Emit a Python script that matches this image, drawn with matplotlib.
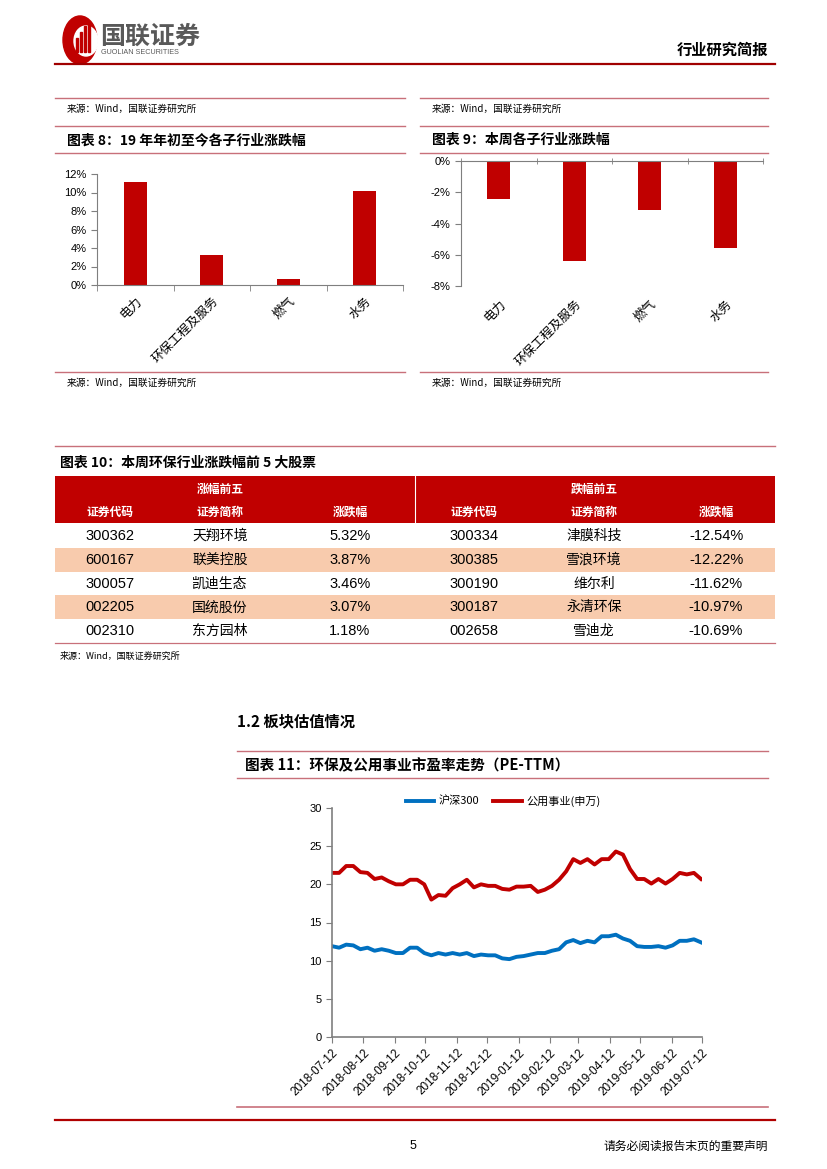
import numpy as np
import pandas as pd
import matplotlib
matplotlib.use("Agg")
import matplotlib.pyplot as plt
from matplotlib.lines import Line2D
from matplotlib.patches import Rectangle, Circle, Ellipse
from matplotlib.ticker import MultipleLocator, FuncFormatter

plt.rcParams['font.family'] = ['Noto Sans CJK SC', 'DejaVu Sans']
NUM = ['Liberation Sans', 'Noto Sans CJK SC']

# ---------------- data ----------------
sub_industries = ['电力', '环保工程及服务', '燃气', '水务']
ytd_change = [11.1, 3.2, 0.6, 10.2]          # 图表8 (%)
week_change = [-2.4, -6.4, -3.15, -5.55]     # 图表9 (%)

top_codes = ['300362', '600167', '300057', '002205', '002310']
top_names = ['天翔环境', '联美控股', '凯迪生态', '国统股份', '东方园林']
top_pct = ['5.32%', '3.87%', '3.46%', '3.07%', '1.18%']
bot_codes = ['300334', '300385', '300190', '300187', '002658']
bot_names = ['津膜科技', '雪浪环境', '维尔利', '永清环保', '雪迪龙']
bot_pct = ['-12.54%', '-12.22%', '-11.62%', '-10.97%', '-10.69%']

pe_dates = pd.date_range('2018-07-12', periods=53, freq='7D')
pe_hs300 = [11.9, 11.7, 12.1, 12.0, 11.5, 11.7, 11.3, 11.5, 11.3, 11.0,
            11.0, 11.7, 11.7, 11.0, 10.7, 11.0, 10.8, 11.0, 10.8, 11.0,
            10.6, 10.8, 10.7, 10.7, 10.3, 10.2, 10.5, 10.6, 10.8, 11.0,
            11.0, 11.3, 11.5, 12.4, 12.7, 12.3, 12.6, 12.4, 13.2, 13.2,
            13.4, 12.9, 12.6, 11.9, 11.8, 11.8, 11.9, 11.7, 12.0, 12.6,
            12.6, 12.8, 12.4]
pe_utility = [21.5, 21.5, 22.4, 22.4, 21.6, 21.5, 20.7, 20.9, 20.4, 20.0,
              20.0, 20.6, 20.6, 20.0, 18.0, 18.6, 18.5, 19.5, 20.0, 20.6,
              19.6, 20.0, 19.8, 19.8, 19.4, 19.3, 19.7, 19.7, 19.8, 19.0,
              19.3, 19.8, 20.6, 21.7, 23.3, 22.8, 23.3, 22.6, 23.3, 23.3,
              24.3, 23.9, 22.0, 20.7, 20.7, 20.1, 20.7, 20.1, 20.7, 21.5,
              21.3, 21.5, 20.7]
date_ticks = ['2018-07-12', '2018-08-12', '2018-09-12', '2018-10-12', '2018-11-12',
              '2018-12-12', '2019-01-12', '2019-02-12', '2019-03-12', '2019-04-12',
              '2019-05-12', '2019-06-12', '2019-07-12']

# ---------------- layout helpers ----------------
W, H = 827, 1169
fig = plt.figure(figsize=(W / 100, H / 100), dpi=100)
RED = '#C00000'
PINK = '#C8707A'
GRAY_AX = '#7F7F7F'

def fx(x):
    return x / W

def fy(y):
    return 1 - y / H

def hline(y, x0, x1, color=PINK, lw=1.0):
    fig.add_artist(Line2D([fx(x0), fx(x1)], [fy(y), fy(y)], color=color, lw=lw))

def txt(x, y, s, **kw):
    kw.setdefault('va', 'center')
    fig.text(fx(x), fy(y), s, **kw)

def add_ax(x0, x1, ytop, ybot):
    return fig.add_axes([fx(x0), fy(ybot), fx(x1) - fx(x0), (ybot - ytop) / H])

# ---------------- page header ----------------
fig.add_artist(Circle((fx(80), fy(40)), 17 / W, transform=fig.transFigure,
                      color=RED, zorder=2))
fig.add_artist(Ellipse((fx(86), fy(41)), 24 / W, 30 / H, transform=fig.transFigure,
                       color='white', zorder=3))
for i, hh in enumerate([14, 20, 26, 30]):
    fig.add_artist(Rectangle((fx(76 + i * 4), fy(52)), 2.2 / W, hh / H,
                             transform=fig.transFigure, color=RED, zorder=4))
txt(100, 37, '国联证券', fontsize=18, fontweight='bold', color='#595959')
txt(101, 53, 'GUOLIAN SECURITIES', fontsize=5.2, color='#595959', family=NUM)
txt(768, 50, '行业研究简报', fontsize=11, fontweight='bold', ha='right', color='black')
hline(64, 55, 775, color='#A00000', lw=1.6)

# ---------------- chart 8 & 9 frames ----------------
src = '来源：Wind，国联证券研究所'
for (x0, x1) in [(55, 405), (420, 768)]:
    hline(98, x0, x1)
    txt(x0 + 12, 109, src, fontsize=7)
    hline(126, x0, x1)
    hline(153, x0, x1)
    hline(372, x0, x1)
    txt(x0 + 12, 383, src, fontsize=7)
txt(67, 140, '图表 8：19 年年初至今各子行业涨跌幅', fontsize=10, fontweight='bold',
    fontstyle='italic')
txt(432, 140, '图表 9：本周各子行业涨跌幅', fontsize=10, fontweight='bold',
    fontstyle='italic')

def style_bar_ax(ax):
    for s in ['right', 'top', 'bottom', 'left']:
        ax.spines[s].set_visible(False)
    ax.spines['left'].set_visible(True)
    ax.spines['left'].set_color(GRAY_AX)
    ax.tick_params(axis='y', colors='black', labelsize=8, length=4, color=GRAY_AX)
    ax.set_facecolor('none')

xpos = np.arange(len(sub_industries))

# chart 8
ax8 = add_ax(97, 403, 174, 285)
ax8.bar(xpos, ytd_change, width=0.3, color=RED)
ax8.set_xlim(-0.5, 3.5)
ax8.set_ylim(0, 12)
ax8.yaxis.set_major_locator(MultipleLocator(2))
ax8.yaxis.set_major_formatter(FuncFormatter(lambda v, p: f'{v:.0f}%'))
style_bar_ax(ax8)
ax8.spines['bottom'].set_visible(True)
ax8.spines['bottom'].set_color(GRAY_AX)
ax8.set_xticks(xpos)
ax8.set_xticklabels(sub_industries, rotation=45, ha='right', va='top',
                    rotation_mode='anchor', fontsize=9)
ax8.set_xticks(np.arange(-0.5, 4.0, 1.0), minor=True)
ax8.tick_params(axis='x', which='major', length=0, pad=7)
ax8.tick_params(axis='x', which='minor', length=4, color=GRAY_AX)
for lab in ax8.get_yticklabels():
    lab.set_family(NUM)

# chart 9
ax9 = add_ax(461, 763, 161, 286)
ax9.bar(xpos, week_change, width=0.3, color=RED)
ax9.set_xlim(-0.5, 3.5)
ax9.set_ylim(-8, 0)
ax9.yaxis.set_major_locator(MultipleLocator(2))
ax9.yaxis.set_major_formatter(FuncFormatter(lambda v, p: f'{v:.0f}%'))
style_bar_ax(ax9)
ax9.spines['top'].set_visible(True)
ax9.spines['top'].set_color(GRAY_AX)
ax9.set_xticks(xpos)
ax9.set_xticklabels(sub_industries, rotation=45, ha='right', va='top',
                    rotation_mode='anchor', fontsize=9)
ax9.set_xticks(np.arange(-0.5, 4.0, 1.0), minor=True)
ax9.tick_params(axis='x', which='major', length=0, pad=8, bottom=False, top=False,
                labelbottom=True)
ax9.tick_params(axis='x', which='minor', length=4, color=GRAY_AX, bottom=False,
                top=True, direction='inout')
for lab in ax9.get_yticklabels():
    lab.set_family(NUM)

# ---------------- table (图表10) ----------------
hline(446, 55, 775)
txt(60, 463, '图表 10：本周环保行业涨跌幅前 5 大股票', fontsize=10, fontweight='bold',
    fontstyle='italic')
fig.add_artist(Rectangle((fx(55), fy(523)), fx(775) - fx(55), 47 / H,
                         transform=fig.transFigure, color=RED, lw=0))
fig.add_artist(Line2D([fx(415), fx(415)], [fy(476), fy(523)], color='white', lw=0.8))
col_x = [110, 220, 350, 474, 594, 716]
txt(220, 489, '涨幅前五', fontsize=8.5, fontweight='bold', color='white', ha='center')
txt(594, 489, '跌幅前五', fontsize=8.5, fontweight='bold', color='white', ha='center')
headers = ['证券代码', '证券简称', '涨跌幅', '证券代码', '证券简称', '涨跌幅']
for cx, hd in zip(col_x, headers):
    txt(cx, 512, hd, fontsize=8.5, fontweight='bold', color='white', ha='center')
row_h = 23.8
row_top = 524
for i in range(5):
    y0 = row_top + i * row_h
    if i % 2 == 1:
        fig.add_artist(Rectangle((fx(55), fy(y0 + row_h)), fx(775) - fx(55), row_h / H,
                                 transform=fig.transFigure, color='#F8CBAD', lw=0))
    yc = y0 + row_h / 2
    vals = [top_codes[i], top_names[i], top_pct[i], bot_codes[i], bot_names[i], bot_pct[i]]
    for j, (cx, v) in enumerate(zip(col_x, vals)):
        if j in (1, 4):
            txt(cx, yc, v, fontsize=10, ha='center', color='black')
        else:
            txt(cx, yc, v, fontsize=10.5, ha='center', color='black', family=NUM)
hline(643, 55, 775, color=PINK, lw=0.9)
txt(60, 656, src, fontsize=6.5)

# ---------------- section 1.2 / chart 11 ----------------
txt(237, 721, '1.2 板块估值情况', fontsize=11, fontweight='bold')
hline(751, 237, 768)
txt(245, 765, '图表 11：环保及公用事业市盈率走势（PE-TTM）', fontsize=10.5,
    fontweight='bold', fontstyle='italic')
hline(778, 237, 768)

ax11 = add_ax(332, 702, 808, 1037)
l1, = ax11.plot(pe_dates, pe_hs300, color='#0070C0', lw=2.8, label='沪深300')
l2, = ax11.plot(pe_dates, pe_utility, color=RED, lw=2.8, label='公用事业(申万)')
ax11.set_xlim(pd.Timestamp('2018-07-12'), pd.Timestamp('2019-07-12'))
ax11.set_ylim(0, 30)
ax11.yaxis.set_major_locator(MultipleLocator(5))
ax11.set_xticks(pd.to_datetime(date_ticks))
ax11.set_xticklabels(date_ticks, rotation=45, ha='right', va='top',
                     rotation_mode='anchor', fontsize=8.5, family=NUM)
for s in ['right', 'top']:
    ax11.spines[s].set_visible(False)
for s in ['left', 'bottom']:
    ax11.spines[s].set_color(GRAY_AX)
    ax11.spines[s].set_linewidth(1.2)
ax11.tick_params(axis='y', length=4, color=GRAY_AX, labelsize=8)
ax11.tick_params(axis='x', length=4, color=GRAY_AX, pad=3)
for lab in ax11.get_yticklabels():
    lab.set_family(NUM)
ax11.set_facecolor('none')
fig.legend(handles=[l1, l2], loc='center', bbox_to_anchor=(fx(503), fy(801)),
           ncol=2, frameon=False, fontsize=8, handlelength=2.6, columnspacing=1.2,
           handletextpad=0.4)

hline(1107, 237, 768, color=PINK, lw=1.2)
hline(1120, 55, 775, color='#B00000', lw=1.6)

# ---------------- footer ----------------
txt(413, 1146, '5', fontsize=9, ha='center', family=NUM)
txt(768, 1146, '请务必阅读报告末页的重要声明', fontsize=8.5, ha='right')

fig.savefig('out.png', dpi=100)
